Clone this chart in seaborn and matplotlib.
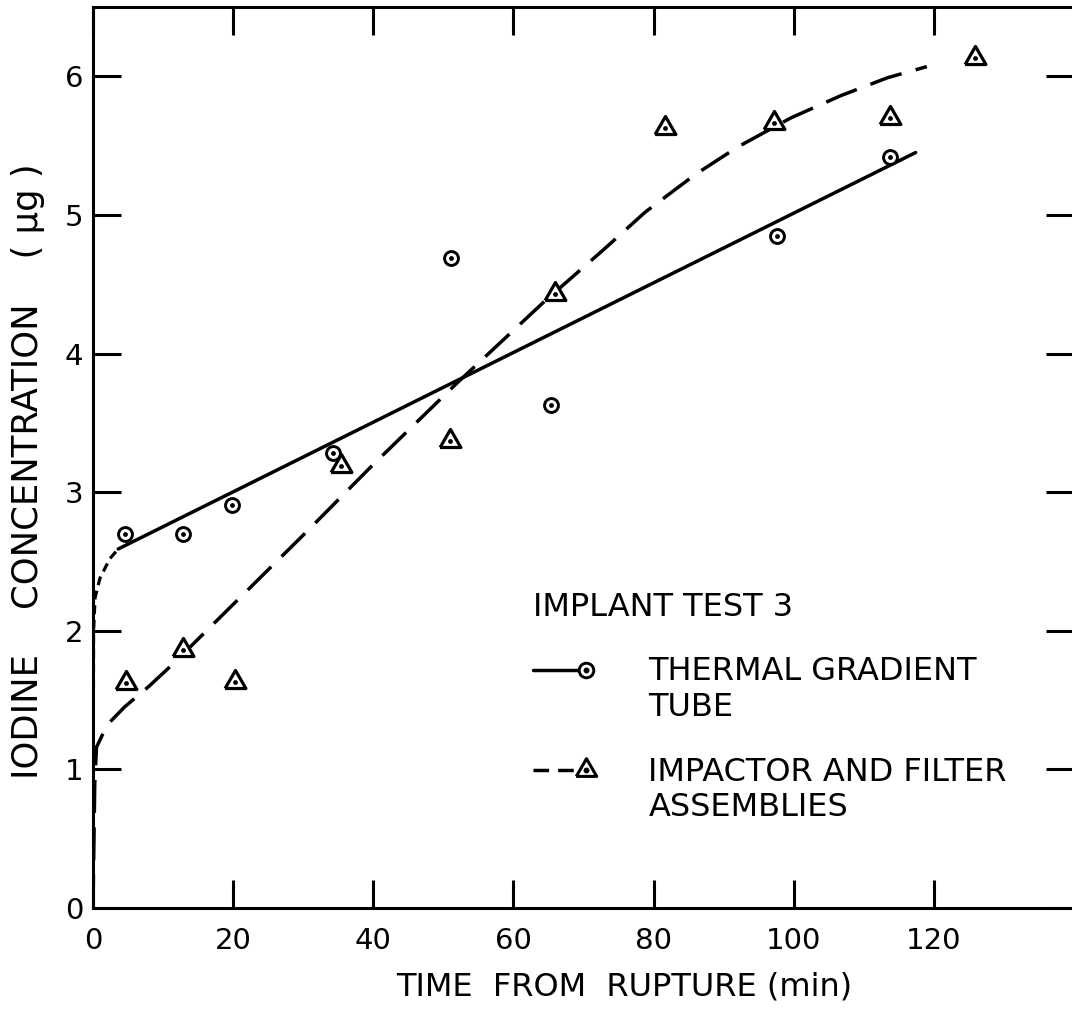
import numpy as np
import pandas as pd
import matplotlib
matplotlib.use("Agg")
import matplotlib.pyplot as plt
from matplotlib.lines import Line2D
from matplotlib.markers import MarkerStyle
from matplotlib.legend_handler import HandlerTuple
import seaborn as sns

# ---------------- data ----------------
tube_time = [4.6, 12.8, 19.9, 34.3, 51.1, 65.4, 97.6, 113.8]
tube_conc = [2.70, 2.70, 2.91, 3.28, 4.69, 3.63, 4.85, 5.42]

imp_time = [4.7, 12.8, 20.2, 35.4, 50.9, 65.9, 81.7, 97.2, 113.8, 125.9]
imp_conc = [1.62, 1.86, 1.63, 3.19, 3.37, 4.43, 5.63, 5.66, 5.70, 6.13]

# fitted curves
tube_fit_time = [3.6, 117.4]
tube_fit_conc = [2.59, 5.45]
tube_rise_time = [0.0, 0.08, 0.3, 1.0, 2.4, 3.6]
tube_rise_conc = [0.0, 2.00, 2.24, 2.38, 2.52, 2.59]
imp_fit_time = [0.0, 0.25, 0.5, 2.0, 4.5, 8.0, 11.4, 20.0, 30.4, 40.0, 51.8,
                64.3, 73.1, 78.8, 85.9, 92.0, 99.6, 106.7, 113.4, 119.0]
imp_fit_conc = [0.0, 0.90, 1.16, 1.32, 1.45, 1.60, 1.76, 2.19, 2.71, 3.20, 3.78,
                4.37, 4.76, 5.02, 5.29, 5.49, 5.70, 5.86, 5.99, 6.07]

x_ticks = [0, 20, 40, 60, 80, 100, 120, 140]
x_tick_labels = ["0", "20", "40", "60", "80", "100", "120", ""]
y_ticks = [0, 1, 2, 3, 4, 5, 6]
y_tick_labels = ["0", "1", "2", "3", "4", "5", "6"]

legend_title = "IMPLANT TEST 3"
tube_label = "THERMAL GRADIENT\nTUBE"
imp_label = "IMPACTOR AND FILTER\nASSEMBLIES"
x_label = "TIME  FROM  RUPTURE (min)"
y_label = "IODINE    CONCENTRATION    ( \u03bcg )"

# ---------------- style ----------------
sns.set_theme(style="ticks")
plt.rcParams["font.family"] = ["DejaVu Sans"]
plt.rcParams["text.color"] = "black"
plt.rcParams["axes.labelcolor"] = "black"
plt.rcParams["xtick.color"] = "black"
plt.rcParams["ytick.color"] = "black"
plt.rcParams["axes.edgecolor"] = "black"

fig = plt.figure(figsize=(10.72, 10.17), dpi=100)
ax = fig.add_axes([93 / 1072, 109 / 1017, 981 / 1072, 901 / 1017])

LW = 2.5
# curves
sns.lineplot(x=tube_fit_time, y=tube_fit_conc, color="black", linewidth=LW,
             sort=False, estimator=None, ax=ax)
sns.lineplot(x=tube_rise_time, y=tube_rise_conc, color="black", linewidth=2.3,
             linestyle=(0, (2.8, 1.8)), sort=False, estimator=None, ax=ax)
sns.lineplot(x=imp_fit_time, y=imp_fit_conc, color="black", linewidth=LW,
             linestyle=(0, (9.5, 4.2)), sort=False, estimator=None, ax=ax)

# markers
tri = MarkerStyle([(-1.0, -0.577), (1.0, -0.577), (0.0, 1.155), (-1.0, -0.577)])
sns.scatterplot(x=tube_time, y=tube_conc, marker="o", s=100, facecolor="white",
                edgecolor="black", linewidth=2.1, zorder=4, ax=ax)
sns.scatterplot(x=tube_time, y=tube_conc, marker="o", s=12, color="black",
                linewidth=0, zorder=5, ax=ax)
sns.scatterplot(x=imp_time, y=imp_conc, marker=tri, s=300, facecolor="white",
                edgecolor="black", linewidth=2.3, zorder=4, ax=ax)
sns.scatterplot(x=imp_time, y=imp_conc, marker="o", s=12, color="black",
                linewidth=0, zorder=5, ax=ax)

# axes
ax.set_xlim(0, 140)
ax.set_ylim(0, 6.5)
ax.set_xticks(x_ticks)
ax.set_xticklabels(x_tick_labels)
ax.set_yticks(y_ticks)
ax.set_yticklabels(y_tick_labels)
ax.tick_params(axis="both", direction="in", length=20, width=2.2,
               top=True, right=True, labelsize=21)
ax.tick_params(axis="x", pad=14)
ax.tick_params(axis="y", pad=7)
for sp in ax.spines.values():
    sp.set_visible(True)
    sp.set_linewidth(2.2)
    sp.set_color("black")
ax.spines["right"].set_visible(False)

ax.set_xlabel(x_label, fontsize=23, va="center")
ax.xaxis.set_label_coords(0.5413, -0.088)
ax.set_ylabel(y_label, fontsize=25.5, va="center")
ax.yaxis.set_label_coords(-0.066, 0.4845)


# ---------------- legend ----------------
class RaisedTuple(HandlerTuple):
    def __init__(self, lift=0.0, **kw):
        super().__init__(**kw)
        self._lift = lift

    def create_artists(self, legend, orig_handle, xdescent, ydescent, width,
                       height, fontsize, trans):
        return super().create_artists(legend, orig_handle, xdescent,
                                      ydescent - 2 * self._lift * fontsize,
                                      width, height, fontsize, trans)


h_tube = (Line2D([], [], color="black", linewidth=LW),
          (Line2D([], [], marker="o", markersize=10.5, markerfacecolor="white",
                  markeredgecolor="black", markeredgewidth=2.1, linestyle="none"),
           Line2D([], [], marker="o", markersize=3.2, color="black", linestyle="none")))
h_imp = (Line2D([], [], color="black", linewidth=LW, linestyle=(0, (4.5, 2.6))),
         (Line2D([], [], marker=tri, markersize=17, markerfacecolor="white",
                 markeredgecolor="black", markeredgewidth=2.2, linestyle="none"),
          Line2D([], [], marker="o", markersize=3.2, color="black", linestyle="none")))

leg = ax.legend(handles=[h_tube, h_imp], labels=[tube_label, imp_label],
                title=legend_title, loc="upper left",
                bbox_to_anchor=(0.449, 0.351), frameon=False,
                fontsize=23, title_fontsize=23, handlelength=2.36,
                handletextpad=1.24, labelspacing=1.05, borderpad=0,
                borderaxespad=0, alignment="left",
                handler_map={h_tube: RaisedTuple(lift=0.65, ndivide=None, pad=-0.45),
                             h_imp: RaisedTuple(lift=0.65, ndivide=None, pad=-0.45)})

fig.savefig("out.png", dpi=100)
